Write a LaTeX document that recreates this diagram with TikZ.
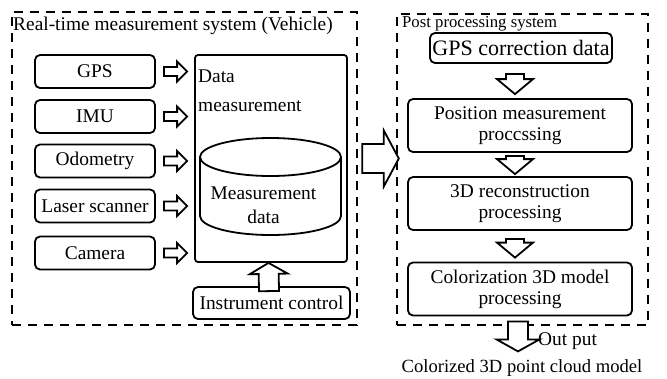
\documentclass[tikz,border=0pt]{standalone}
\usepackage{fontspec}
\setmainfont{Liberation Serif}
\usetikzlibrary{calc}

\newcommand{\mainsize}{\fontsize{19.4}{21}\selectfont}
\newcommand{\smallsize}{\fontsize{16.7}{19}\selectfont}
\newcommand{\bigsize}{\fontsize{22}{24}\selectfont}

% hollow block arrow: start, tip, shaft half width, head half width, head length
\newcommand{\fatarrow}[5]{%
    \coordinate (fa-s) at #1;
    \coordinate (fa-e) at #2;
    \coordinate (fa-h) at ($(fa-e)!#5!(fa-s)$);
    \draw[fatline] ($(fa-s)!#3!90:(fa-e)$) -- ($(fa-h)!#3!-90:(fa-s)$)
        -- ($(fa-h)!#4!-90:(fa-s)$) -- (fa-e) -- ($(fa-h)!#4!90:(fa-s)$)
        -- ($(fa-h)!#3!90:(fa-s)$) -- ($(fa-s)!#3!-90:(fa-e)$) -- cycle;
}

\begin{document}
\begin{tikzpicture}[
    x=1pt, y=-1pt,
    frame/.style={draw, line width=2.4pt, dash pattern=on 9pt off 7pt},
    unit/.style={draw, line width=1.8pt, rounded corners=5pt, inner sep=2pt,
                 minimum width=120, minimum height=33, font=\mainsize, align=center},
    step box/.style={unit, minimum width=224, minimum height=53},
    fatline/.style={draw, line width=1.8pt, fill=white, line join=miter},
    drum/.style={line width=1.8pt}
]
\useasboundingbox (0,0) rectangle (667,378);

% ===== Vehicle side =====
\node[frame, minimum width=345, minimum height=313] (rt) at (184.5,168.5) {};
\node[anchor=base west, inner sep=0, font=\mainsize] (rt-title) at (13,30)
    {Real-time measurement system (Vehicle)};

\node[unit] (gps)   at (95,71.5) {GPS};
\node[unit] (imu)   at (95,116.5) {IMU};
\node[unit] (odo)   at (95,161) {Odometry};
\node[unit] (laser) at (95,206) {Laser scanner};
\node[unit] (cam)   at (95,253) {Camera};

\node[draw, line width=1.8pt, rounded corners=3pt, minimum width=152, minimum height=207]
    (dm) at (271,158.5) {};
\node[anchor=north west, inner sep=0, align=left, font=\fontsize{19.4}{29}\selectfont]
    (dm-label) at (198,70) {Data\\measurement};

% storage drum
\draw[drum] (200,157) -- (200,216)
    arc[start angle=180, end angle=360, x radius=70.5pt, y radius=19pt] -- (341,157);
\draw[drum] (270.5,157) ellipse [x radius=70.5pt, y radius=19pt];
\node[align=center, inner sep=0, font=\fontsize{19.4}{24}\selectfont]
    (store) at (263.5,205) {Measurement\\data};

\node[unit, minimum width=157, minimum height=32] (ctrl) at (271.5,303) {Instrument control};

\foreach \src in {gps,imu,odo,laser,cam}{
    \fatarrow{([xshift=8pt]\src.east)}{([xshift=-7pt]\src.east -| dm.west)}{4.5pt}{10pt}{10pt}
}

\fatarrow{([xshift=-2.5pt,yshift=-5pt]ctrl.north)}{([xshift=-2.5pt]dm.south)}{10pt}{19pt}{11pt}

% ===== Post processing side =====
\node[frame, minimum width=251, minimum height=311] (pp) at (522.5,169.5) {};
\node[anchor=base west, inner sep=0, font=\smallsize] (pp-title) at (402,27)
    {Post processing system};

\node[unit, minimum width=182, minimum height=30, font=\bigsize] (gcd) at (521,48)
    {GPS correction data};
\node[step box] (pos) at (520,125.5) {Position measurement\\proccssing};
\node[step box] (rec) at (520,203.5) {3D reconstruction\\processing};
\node[step box] (col) at (520,289) {Colorization 3D model\\processing};

\coordinate (ax) at (515,0);
\fatarrow{([yshift=-10pt]ax |- gcd.south)}{([yshift=4pt]ax |- pos.north)}{9pt}{18pt}{15pt}
\fatarrow{([yshift=-3pt]ax |- pos.south)}{([yshift=2pt]ax |- rec.north)}{9pt}{18pt}{15pt}
\fatarrow{([yshift=-8pt]ax |- rec.south)}{([yshift=4pt]ax |- col.north)}{9pt}{18pt}{15pt}

% vehicle data handed over
\fatarrow{([xshift=4pt]rt.east |- dm.center)}{([xshift=3pt]pp.west |- dm.center)}{14.5pt}{28pt}{15pt}

% ===== Output =====
\node[anchor=base west, inner sep=0, font=\mainsize] (out) at (538,345) {Out put};
\node[anchor=base, inner sep=0, font=\fontsize{18.6}{21}\selectfont] (model) at (522,372)
    {Colorized 3D point cloud model};
\coordinate (out-tip) at ([xshift=-2pt,yshift=-35pt]col.south);
\fatarrow{([xshift=-2pt,yshift=-5pt]col.south)}{(out-tip)}{10pt}{21.5pt}{12pt}

\end{tikzpicture}
\end{document}
